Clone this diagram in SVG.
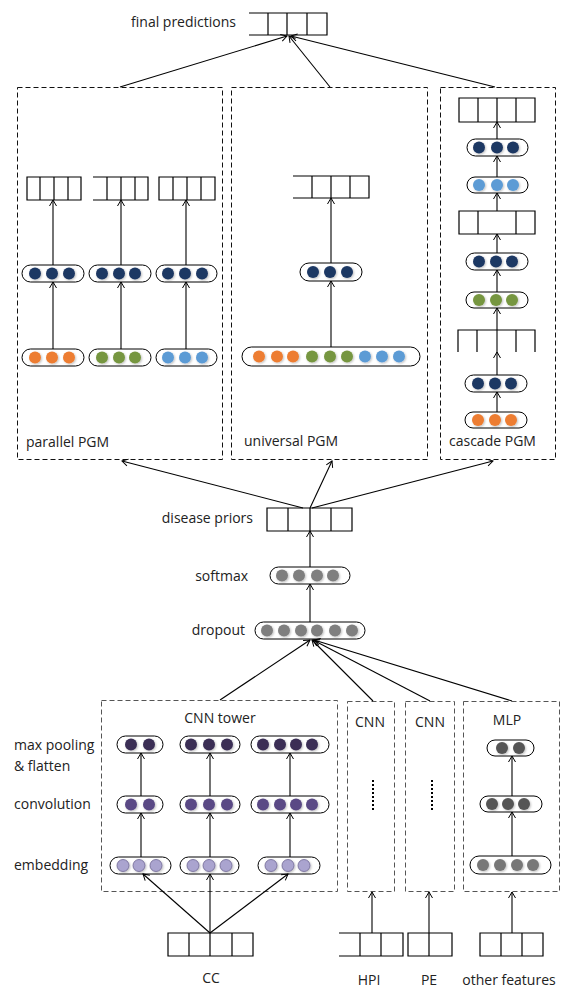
<svg xmlns="http://www.w3.org/2000/svg" width="577" height="998" viewBox="0 0 577 998">
<defs>
<marker id="ah" viewBox="-8 -5 10 10" refX="0" refY="0" markerWidth="10" markerHeight="10" markerUnits="userSpaceOnUse" orient="auto">
<path d="M-6,-3.5 L0,0 L-6,3.5" fill="none" stroke="#000" stroke-width="1"/>
</marker>
<filter id="sh" x="-50%" y="-50%" width="200%" height="200%">
<feGaussianBlur in="SourceAlpha" stdDeviation="1"/>
<feOffset dx="1" dy="1" result="b"/>
<feFlood flood-color="#000" flood-opacity="0.25"/>
<feComposite in2="b" operator="in"/>
<feMerge><feMergeNode/><feMergeNode in="SourceGraphic"/></feMerge>
</filter>
</defs>
<style>
text{font-family:"Open Sans","Noto Sans","Liberation Sans",sans-serif;font-size:14px;fill:#222}
.dash{fill:none;stroke:#111;stroke-width:1;stroke-dasharray:5,3}
.dash2{fill:none;stroke:#555;stroke-width:1;stroke-dasharray:5,3}
.pill{fill:#fff;stroke:#000;stroke-width:1}
.vec{fill:none;stroke:#000;stroke-width:1.2}
.c line,.c path{stroke:#000;stroke-width:1.1;fill:none;marker-end:url(#ah)}
.nv{fill:#1f3864}
.or{fill:#ed7d31}
.gr{fill:#76963f}
.bl{fill:#5b9bd5}
.gy{fill:#7f7f7f}
.p1{fill:#3a2f55}
.p2{fill:#5a4985}
.p3{fill:#aaa4cf;stroke:#6f6794;stroke-width:0.8}
.m1{fill:#555}
.m2{fill:#777}
circle{filter:url(#sh)}
</style>
<rect width="577" height="998" fill="#fff"/>

<g id="final">
<text x="236" y="27" text-anchor="end">final predictions</text>
<path class="vec" d="M249,13 H327 V35 H249 M268,13 V35 M287,13 V35 M307,13 V35"/>
</g>

<g id="parallel">
<rect class="dash" x="17.5" y="87.5" width="205" height="372"/>
<text x="26" y="447">parallel PGM</text>
<path class="vec" d="M27,177 H81 V200 H27 Z M40,177 V200 M54,177 V200 M68,177 V200"/>
<path class="vec" d="M93,177 H148 V200 H93 M107,177 V200 M121,177 V200 M135,177 V200"/>
<path class="vec" d="M159,177 H215 V200 H159 Z M173,177 V200 M187,177 V200 M201,177 V200"/>
<rect class="pill" x="22" y="265" width="62" height="17" rx="8.5"/>
<circle class="nv" cx="35" cy="273.5" r="6"/><circle class="nv" cx="52" cy="273.5" r="6"/><circle class="nv" cx="69" cy="273.5" r="6"/>
<rect class="pill" x="89" y="265" width="62" height="17" rx="8.5"/>
<circle class="nv" cx="102" cy="273.5" r="6"/><circle class="nv" cx="119" cy="273.5" r="6"/><circle class="nv" cx="135" cy="273.5" r="6"/>
<rect class="pill" x="156" y="265" width="61" height="17" rx="8.5"/>
<circle class="nv" cx="168" cy="273.5" r="6"/><circle class="nv" cx="185" cy="273.5" r="6"/><circle class="nv" cx="202" cy="273.5" r="6"/>
<rect class="pill" x="22" y="349" width="62" height="17" rx="8.5"/>
<circle class="or" cx="35" cy="357.5" r="6"/><circle class="or" cx="52" cy="357.5" r="6"/><circle class="or" cx="69" cy="357.5" r="6"/>
<rect class="pill" x="89" y="349" width="62" height="17" rx="8.5"/>
<circle class="gr" cx="102" cy="357.5" r="6"/><circle class="gr" cx="119" cy="357.5" r="6"/><circle class="gr" cx="135" cy="357.5" r="6"/>
<rect class="pill" x="156" y="349" width="61" height="17" rx="8.5"/>
<circle class="bl" cx="168" cy="357.5" r="6"/><circle class="bl" cx="185" cy="357.5" r="6"/><circle class="bl" cx="202" cy="357.5" r="6"/>
</g>

<g id="universal">
<rect class="dash" x="231.5" y="87.5" width="196" height="372"/>
<text x="244" y="446">universal PGM</text>
<path class="vec" d="M293,176 H369 V198 H293 M312,176 V198 M331,176 V198 M350,176 V198"/>
<rect class="pill" x="300" y="263" width="62" height="18" rx="9"/>
<circle class="nv" cx="313" cy="272" r="6"/><circle class="nv" cx="330" cy="272" r="6"/><circle class="nv" cx="347" cy="272" r="6"/>
<rect class="pill" x="242" y="347" width="178" height="19" rx="9.5"/>
<circle class="or" cx="259" cy="356.5" r="6"/><circle class="or" cx="277" cy="356.5" r="6"/><circle class="or" cx="293" cy="356.5" r="6"/>
<circle class="gr" cx="312" cy="356.5" r="6"/><circle class="gr" cx="330" cy="356.5" r="6"/><circle class="gr" cx="347" cy="356.5" r="6"/>
<circle class="bl" cx="365" cy="356.5" r="6"/><circle class="bl" cx="382" cy="356.5" r="6"/><circle class="bl" cx="399" cy="356.5" r="6"/>
</g>

<g id="cascade">
<rect class="dash" x="440.5" y="87.5" width="115" height="372"/>
<text x="449" y="446">cascade PGM</text>
<path class="vec" d="M459,98 H535 V122 H459 Z M478,98 V122 M497,98 V122 M516,98 V122"/>
<rect class="pill" x="467" y="139" width="61" height="17" rx="8.5"/>
<circle class="nv" cx="479" cy="147.5" r="6"/><circle class="nv" cx="497" cy="147.5" r="6"/><circle class="nv" cx="513" cy="147.5" r="6"/>
<rect class="pill" x="467" y="177" width="61" height="16" rx="8"/>
<circle class="bl" cx="479" cy="185" r="6"/><circle class="bl" cx="497" cy="185" r="6"/><circle class="bl" cx="513" cy="185" r="6"/>
<path class="vec" d="M459,211 H535 V234 H459 Z M478,211 V234 M516,211 V234"/>
<rect class="pill" x="466" y="253" width="62" height="17" rx="8.5"/>
<circle class="nv" cx="479" cy="261.5" r="6"/><circle class="nv" cx="496" cy="261.5" r="6"/><circle class="nv" cx="512" cy="261.5" r="6"/>
<rect class="pill" x="466" y="292" width="62" height="16" rx="8"/>
<circle class="gr" cx="479" cy="300" r="6"/><circle class="gr" cx="496" cy="300" r="6"/><circle class="gr" cx="512" cy="300" r="6"/>
<path class="vec" d="M458,352 V330 H535 V352 M477,330 V352 M516,330 V352"/>
<rect class="pill" x="465" y="375" width="62" height="17" rx="8.5"/>
<circle class="nv" cx="478" cy="383.5" r="6"/><circle class="nv" cx="495" cy="383.5" r="6"/><circle class="nv" cx="511" cy="383.5" r="6"/>
<rect class="pill" x="465" y="412" width="62" height="16" rx="8"/>
<circle class="or" cx="478" cy="420" r="6"/><circle class="or" cx="495" cy="420" r="6"/><circle class="or" cx="511" cy="420" r="6"/>
</g>

<g id="priors">
<text x="253" y="523" text-anchor="end">disease priors</text>
<path class="vec" d="M267,508 H352 V531 H267 Z M288,508 V531 M310,508 V531 M331,508 V531"/>
</g>

<g id="softmax">
<text x="248" y="581" text-anchor="end">softmax</text>
<rect class="pill" x="270" y="567" width="80" height="17" rx="8.5"/>
<circle class="gy" cx="282" cy="575.5" r="6"/><circle class="gy" cx="299" cy="575.5" r="6"/><circle class="gy" cx="317" cy="575.5" r="6"/><circle class="gy" cx="333" cy="575.5" r="6"/>
</g>

<g id="dropout">
<text x="245" y="635" text-anchor="end">dropout</text>
<rect class="pill" x="255" y="622" width="110" height="17" rx="8.5"/>
<circle class="gy" cx="267" cy="630.5" r="6"/><circle class="gy" cx="284" cy="630.5" r="6"/><circle class="gy" cx="301" cy="630.5" r="6"/><circle class="gy" cx="317" cy="630.5" r="6"/><circle class="gy" cx="335" cy="630.5" r="6"/><circle class="gy" cx="352" cy="630.5" r="6"/>
</g>

<g id="labels">
<text x="14" y="750">max pooling</text>
<text x="14" y="771">&amp; flatten</text>
<text x="14" y="809">convolution</text>
<text x="14" y="870">embedding</text>
</g>

<g id="cnn-tower">
<rect class="dash2" x="101.5" y="700.5" width="236" height="191"/>
<text x="220" y="723" text-anchor="middle">CNN tower</text>
<rect class="pill" x="117" y="736" width="46" height="17" rx="8.5"/>
<circle class="p1" cx="131" cy="744.5" r="6"/><circle class="p1" cx="149" cy="744.5" r="6"/>
<rect class="pill" x="180" y="736" width="60" height="17" rx="8.5"/>
<circle class="p1" cx="191" cy="744.5" r="6"/><circle class="p1" cx="209" cy="744.5" r="6"/><circle class="p1" cx="227" cy="744.5" r="6"/>
<rect class="pill" x="251" y="736" width="78" height="17" rx="8.5"/>
<circle class="p1" cx="263" cy="744.5" r="6"/><circle class="p1" cx="280" cy="744.5" r="6"/><circle class="p1" cx="296" cy="744.5" r="6"/><circle class="p1" cx="312" cy="744.5" r="6"/>
<rect class="pill" x="117" y="796" width="46" height="17" rx="8.5"/>
<circle class="p2" cx="131" cy="804.5" r="6"/><circle class="p2" cx="149" cy="804.5" r="6"/>
<rect class="pill" x="180" y="796" width="60" height="17" rx="8.5"/>
<circle class="p2" cx="191" cy="804.5" r="6"/><circle class="p2" cx="209" cy="804.5" r="6"/><circle class="p2" cx="227" cy="804.5" r="6"/>
<rect class="pill" x="251" y="796" width="78" height="17" rx="8.5"/>
<circle class="p2" cx="263" cy="804.5" r="6"/><circle class="p2" cx="280" cy="804.5" r="6"/><circle class="p2" cx="296" cy="804.5" r="6"/><circle class="p2" cx="312" cy="804.5" r="6"/>
<rect class="pill" x="110" y="857" width="61" height="17" rx="8.5"/>
<circle class="p3" cx="123" cy="865.5" r="6"/><circle class="p3" cx="139" cy="865.5" r="6"/><circle class="p3" cx="156" cy="865.5" r="6"/>
<rect class="pill" x="180" y="857" width="59" height="17" rx="8.5"/>
<circle class="p3" cx="193" cy="865.5" r="6"/><circle class="p3" cx="209" cy="865.5" r="6"/><circle class="p3" cx="226" cy="865.5" r="6"/>
<rect class="pill" x="258" y="857" width="62" height="17" rx="8.5"/>
<circle class="p3" cx="271" cy="865.5" r="6"/><circle class="p3" cx="288" cy="865.5" r="6"/><circle class="p3" cx="304" cy="865.5" r="6"/>
</g>

<g id="cnn-hpi">
<rect class="dash2" x="347.5" y="701.5" width="47" height="190"/>
<text x="370" y="727" text-anchor="middle">CNN</text>
<line x1="373" y1="780" x2="373" y2="812" stroke="#000" stroke-width="2" stroke-dasharray="2,2"/>
</g>

<g id="cnn-pe">
<rect class="dash2" x="405.5" y="701.5" width="49" height="190"/>
<text x="430" y="727" text-anchor="middle">CNN</text>
<line x1="432" y1="780" x2="432" y2="812" stroke="#000" stroke-width="2" stroke-dasharray="2,2"/>
</g>

<g id="mlp">
<rect class="dash2" x="463.5" y="701.5" width="96" height="190"/>
<text x="507" y="725" text-anchor="middle">MLP</text>
<rect class="pill" x="487" y="740" width="47" height="16" rx="8"/>
<circle class="m1" cx="502" cy="748" r="6"/><circle class="m1" cx="519" cy="748" r="6"/>
<rect class="pill" x="480" y="796" width="62" height="16" rx="8"/>
<circle class="m1" cx="492" cy="804" r="6"/><circle class="m1" cx="508" cy="804" r="6"/><circle class="m1" cx="524" cy="804" r="6"/>
<rect class="pill" x="470" y="856" width="81" height="18" rx="9"/>
<circle class="m2" cx="483" cy="865" r="6"/><circle class="m2" cx="500" cy="865" r="6"/><circle class="m2" cx="517" cy="865" r="6"/><circle class="m2" cx="533" cy="865" r="6"/>
</g>

<g id="cc">
<path class="vec" d="M168,933 H253 V956 H168 Z M189,933 V956 M210,933 V956 M232,933 V956"/>
<text x="211" y="983" text-anchor="middle">CC</text>
</g>
<g id="hpi">
<path class="vec" d="M339,933 H403 V956 H339 M360,933 V956 M381,933 V956"/>
<text x="369" y="985" text-anchor="middle">HPI</text>
</g>
<g id="pe">
<path class="vec" d="M408,933 H452 V956 H408 Z M429,933 V956"/>
<text x="429" y="985" text-anchor="middle">PE</text>
</g>
<g id="other">
<path class="vec" d="M480,933 H543 V956 H480 Z M501,933 V956 M522,933 V956"/>
<text x="509" y="985" text-anchor="middle">other features</text>
</g>

<g id="connectors" class="c">
<line x1="120" y1="87" x2="287" y2="36"/>
<line x1="330" y1="87" x2="289" y2="36"/>
<line x1="495" y1="87" x2="291" y2="36"/>
<line x1="53" y1="349" x2="53" y2="282"/>
<line x1="53" y1="265" x2="53" y2="200"/>
<line x1="121" y1="349" x2="121" y2="282"/>
<line x1="121" y1="265" x2="121" y2="200"/>
<line x1="186" y1="349" x2="186" y2="282"/>
<line x1="186" y1="265" x2="186" y2="200"/>
<line x1="331" y1="347" x2="331" y2="281"/>
<line x1="331" y1="263" x2="331" y2="198"/>
<line x1="497" y1="412" x2="497" y2="392"/>
<line x1="497" y1="375" x2="497" y2="352"/>
<line x1="497" y1="352" x2="497" y2="308"/>
<line x1="497" y1="292" x2="497" y2="270"/>
<line x1="497" y1="253" x2="497" y2="234"/>
<line x1="497" y1="211" x2="497" y2="193"/>
<line x1="497" y1="177" x2="497" y2="156"/>
<line x1="497" y1="139" x2="497" y2="122"/>
<line x1="303" y1="508" x2="122" y2="461"/>
<line x1="310" y1="508" x2="332" y2="461"/>
<line x1="312" y1="508" x2="493" y2="461"/>
<line x1="310" y1="567" x2="310" y2="531"/>
<line x1="310" y1="622" x2="310" y2="584"/>
<line x1="220" y1="700" x2="310" y2="640"/>
<line x1="373" y1="701" x2="312" y2="640"/>
<line x1="430" y1="701" x2="313" y2="640"/>
<line x1="512" y1="701" x2="314" y2="640"/>
<line x1="141" y1="857" x2="141" y2="813"/>
<line x1="141" y1="796" x2="141" y2="753"/>
<line x1="210" y1="857" x2="210" y2="813"/>
<line x1="210" y1="796" x2="210" y2="753"/>
<line x1="290" y1="857" x2="290" y2="813"/>
<line x1="290" y1="796" x2="290" y2="753"/>
<line x1="512" y1="856" x2="512" y2="812"/>
<line x1="512" y1="796" x2="512" y2="756"/>
<line x1="210" y1="933" x2="143" y2="874"/>
<line x1="210" y1="933" x2="210" y2="874"/>
<line x1="210" y1="933" x2="288" y2="874"/>
<line x1="372" y1="933" x2="372" y2="892"/>
<line x1="429" y1="933" x2="429" y2="892"/>
<line x1="512" y1="933" x2="512" y2="892"/>
</g>
</svg>
